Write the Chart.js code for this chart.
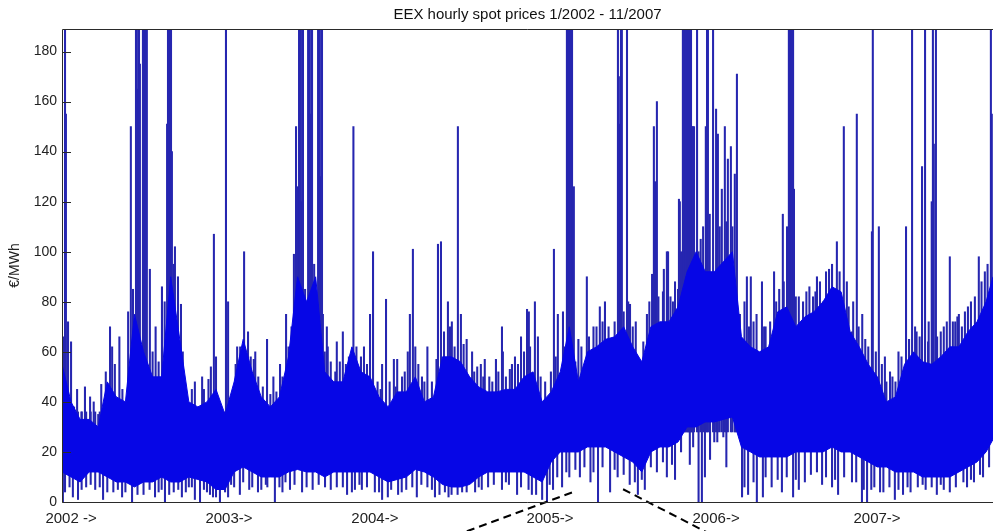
<!DOCTYPE html>
<html><head><meta charset="utf-8">
<script src="https://cdn.jsdelivr.net/npm/chart.js@4.4.1/dist/chart.umd.min.js"></script>
<style>html,body{margin:0;padding:0;background:#fff;overflow:hidden}canvas{display:block}</style>
</head><body>
<canvas id="c" width="995" height="531"></canvas>
<script>
// ---- data (x = weeks since 1 Jan 2002, y = EUR/MWh) ----
const chartTitle = 'EEX hourly spot prices 1/2002 - 11/2007';
const yAxisLabel = '€/MWh';
const yTickValues = [0, 20, 40, 60, 80, 100, 120, 140, 160, 180];
const tickWeeks = [3.0, 55.3, 103.6, 161.6, 216.6, 269.9];
const tickLabels = ['2002 ->', '2003->', '2004->', '2005->', '2006->', '2007->'];

// dense band of hourly prices, sampled every 3 weeks
const bodyWeeks = [0,3,6,9,12,15,18,21,24,27,30,33,36,39,42,45,48,51,54,57,60,63,66,69,72,75,78,81,84,87,90,93,96,99,102,105,108,111,114,117,120,123,126,129,132,135,138,141,144,147,150,153,156,159,162,165,168,171,174,177,180,183,186,189,192,195,198,201,204,207,210,213,216,219,222,225,228,231,234,237,240,243,246,249,252,255,258,261,264,267,270,273,276,279,282,285,288,291,294,297,300,303,306,308.3];
const bodyHigh = [55,40,33,33,30,48,42,40,75,60,50,50,90,65,40,38,40,45,35,48,65,52,42,38,42,58,90,80,90,52,48,48,62,52,50,42,38,44,44,50,40,42,58,58,56,50,46,44,44,45,45,50,52,40,44,52,70,48,60,62,65,66,70,62,56,70,72,72,78,92,100,92,92,96,100,66,62,60,62,76,78,70,74,76,80,86,84,68,62,55,50,40,42,55,60,56,55,58,62,62,68,72,80,90];
const bodyLow = [12,10,8,12,12,10,8,8,6,8,8,10,8,8,10,9,8,5,5,12,14,12,10,10,10,12,13,12,12,10,12,12,12,12,12,10,8,9,10,13,12,10,7,6,6,7,10,12,12,12,12,12,10,8,16,20,20,20,22,22,22,20,18,16,12,20,22,22,24,30,30,32,32,33,34,22,20,18,18,18,18,20,20,20,20,22,20,20,18,16,14,14,12,12,12,10,10,10,10,12,14,16,20,25];

// isolated hourly peaks [week, price]
const spikes = [[1.0,189],[1.3,155],[2.0,72],[3.0,64],[5,45],[7.6,46],[9.3,42],[13,47],[15.9,70],[16.6,62],[19,66],[21.9,76],[22.8,150],[24.5,189],[24.8,189],[25.2,165],[25.5,189],[25.8,175],[26.8,189],[27.2,189],[27.5,189],[27.8,189],[28.1,189],[29.1,93],[31,70],[33.1,86],[34.8,151],[35.1,189],[35.4,189],[35.8,189],[36.1,189],[36.4,140],[37.4,102],[38.4,90],[39.4,79],[41,44],[44,48],[46.4,50],[49.3,54],[50.3,107],[54.3,189],[55.0,80],[58,62],[60.3,100],[61.6,68],[64,60],[67.9,65],[70,50],[72.2,55],[74.2,75],[76.8,99],[77.5,150],[78.1,126],[78.5,189],[78.8,189],[79.1,120],[79.5,189],[79.8,189],[80.5,85],[81.5,189],[81.8,189],[82.1,155],[82.5,189],[82.8,189],[84.8,189],[85.1,189],[85.4,189],[85.8,130],[86.1,189],[86.4,75],[87.7,70],[88,62],[91,64],[93.0,68],[96.5,150],[100,62],[102.0,75],[103.0,100],[106,55],[107.3,81],[109.9,57],[111,57],[112.6,50],[115.2,75],[116.2,101],[118,55],[119.2,50],[121,62],[122.5,48],[124.5,103],[125.5,104],[127.8,80],[129.1,72],[131.1,150],[132.1,75],[134,65],[135.8,60],[138.7,55],[140,57],[143.7,57],[145.7,70],[146,60],[148.3,53],[150,58],[152.0,66],[154.0,77],[154.6,76],[156.6,80],[157.6,66],[161.9,52],[162.9,101],[164.2,75],[165.9,76],[167.2,189],[167.5,189],[167.9,189],[168.2,189],[168.5,189],[168.9,189],[169.5,126],[171,65],[173.8,90],[175.8,61],[177,70],[178.1,78],[179.8,80],[182.5,65],[184.1,189],[184.4,170],[184.8,151],[185.1,189],[185.4,189],[187.1,189],[188.1,79],[190,72],[191.4,54],[193.7,75],[195.4,91],[196.0,150],[196.4,128],[197.0,160],[198.0,70],[199.3,93],[200.3,100],[200.7,100],[202.3,80],[204.0,85],[204.3,121],[204.6,120],[205.6,189],[206.0,189],[206.3,189],[206.6,189],[207.0,189],[207.3,189],[207.6,189],[207.9,189],[208.3,189],[208.6,150],[208.9,150],[209.3,150],[210.3,189],[213.2,150],[213.6,189],[213.9,189],[215.6,189],[216.6,157],[217.2,147],[218.5,125],[219.5,150],[220.5,137],[221.5,142],[222.8,131],[223.5,171],[226,80],[226.8,90],[228.1,90],[230,75],[231.8,88],[233,70],[235.8,92],[238.7,115],[240.1,110],[240.7,189],[241.1,189],[241.4,189],[241.7,189],[242.1,189],[242.4,125],[244,82],[245.4,80],[248.7,82],[250,90],[252.0,80],[254.0,93],[256.6,104],[258.9,150],[259.9,88],[261.6,68],[262,80],[263.2,155],[265,75],[268.2,108],[268.5,189],[270.5,110],[272.5,58],[274.2,52],[277,60],[279.5,110],[281.5,189],[283,68],[284.8,134],[285.8,189],[287,72],[288.0,120],[288.4,189],[288.7,143],[289.4,189],[292,70],[294.0,98],[295.0,72],[297,75],[298.0,70],[300.0,78],[302.3,82],[303.6,98],[305.6,92],[307.6,189],[307.9,155],
  [0.5,66],[4,38],[6.5,36],[10.5,40],[12,35],[14.5,52],[17.5,55],[20,45],[23.5,85],[30,60],[32,56],[34,80],[37,95],[40,60],[43,45],[47,45],[48.5,49],[51,58],
  [53,30],[56,42],[57.5,55],[59,62],[62.5,58],[63.5,57],[65,50],[66.5,46],[69,43],[71,44],[73,50],[75,62],[76,70],[83.5,95],[87,60],[89,56],[90.5,52],[92,56],[94,55],[95,58],[97.5,62],[99,58],[101,55],
  [104.5,48],[105.5,45],[108.5,48],[110.5,46],[113.5,52],[114.5,60],[117,62],[120,48],[124,57],[126.5,68],[128.5,70],[130,62],[133,63],[136.5,52],[137.5,54],[139.5,50],[141.5,50],[142.5,48],[144.5,52],[147,50],[149,55],[151,55],[153,60],[155,62],
  [158.5,50],[160,48],[163.5,58],[166.5,62],[170,56],[172,62],[174.5,66],[176,70],[179,72],[181,70],[183,72],[186,76],[187.5,80],[189,70],[192.5,64],[194.5,80],[197.5,82],[199,84],[201.5,82],[203,88],[205,100],
  [210.8,100],[211.5,105],[212.3,110],[214.5,115],[217.8,110],[220,112],[222,110],[224.5,75],[227.5,70],[229,72],[232.5,70],[234.5,72],[236.5,80],[237.5,85],[239,88],[243,82],[246.5,84],[247.5,86],[249.5,84],[251,88],[253,92],[255,95],[257.5,92],[260.5,78],[263.8,70],
  [266,65],[267,62],[269.5,60],[271.5,55],[273,48],[275,50],[276,48],[278,58],[280.5,65],[282.5,70],[284,66],[286.8,64],[289.8,66],[291,68],[293,72],[295.8,72],[296.5,74],[299,76],[301,80],[304.5,88],[306.5,95]];

// isolated hourly lows [week, price]
const dips = [[0.3,0],[1.0,4],[3.6,2],[5.3,1],[8,6],[11,5],[13.6,1],[17,4],[19.9,2],[23.2,0],[27,3],[30.8,2],[33,5],[34.1,0],[37,4],[39.7,2],[42,6],[44.0,1],[45.7,0],[48,4],[50.0,2],[52.3,0],[55.0,2],[57,6],[58.9,3],[62,5],[64.9,4],[68,6],[70.5,0],[73,4],[75.5,5],[79.5,4],[83,5],[87.1,6],[91,6],[94.4,3],[97,5],[99.3,5],[103.6,4],[106.0,1],[107.9,2],[111.3,3],[114,5],[117.5,2],[121,6],[123.5,2],[126.8,4],[129,3],[132.5,4],[136.8,4],[139,5],[141.1,6],[145.7,5],[148,7],[150.7,3],[155.6,3],[159.0,1],[160.6,0],[162.6,5],[165.6,6],[168,10],[171.5,10],[175,8],[177.5,0],[181.5,4],[184,10],[189.7,8],[190.7,3],[193.0,5],[197,12],[200.3,10],[203.0,9],[207.9,15],[210.8,0],[211.9,0],[212.9,10],[214.6,17],[217,24],[220,14],[225.2,2],[227.2,3],[230.1,0],[232.1,2],[235,6],[238.4,4],[242.1,2],[244,5],[246.0,8],[251.7,7],[255,6],[257.0,3],[261.6,8],[264.9,0],[266.6,0],[268,5],[270.9,4],[275.8,1],[278.5,3],[281,4],[283.4,6],[286,5],[289.7,3],[292,5],[294.0,4],[299.7,6],[302,8],[305.0,10],
  [2.5,6],[6.5,5],[9.5,7],[12.5,6],[15,4],[18.5,5],[21,4],[25,3],[29,5],[32,4],[35.5,3],[38.5,5],[41,4],[43,6],[47,5],[49,3],[51,2],
  [54,4],[56,7],[60,8],[63,6],[66,5],[67.5,7],[72,6],[74,8],[77,7],[81,6],[85,7],[89,5],[93,6],[96,4],[98.5,7],[101,6],
  [105,4],[109,5],[112.5,4],[116,6],[119,7],[122.5,5],[125,3],[128,2],[131,3],[134,4],[138,6],[143,7],[147,8],[152,6],[154.5,5],[157,3],
  [161.5,7],[164,10],[167,12],[170,13],[173,14],[176,12],[179,14],[183,13],[186,11],[188,7],[192,9],[195,14],[199,16],[202,15],[205,20],[209,22],
  [216,24],[219,26],[223,28],[226,6],[229,8],[233,10],[237,9],[240,10],[243,9],[248,11],[250,12],[253,10],[256,9],[259,10],[263,8],
  [265.5,5],[269,6],[272,4],[274,6],[277,5],[280,6],[285,7],[288,6],[291,7],[296,6],[298.5,8],[301,9],[304,11],[307,14]];
const spikeBase = 28;   // spikes rise from inside the band
const dipBase = 36;     // dips fall from inside the band

// dashed guide lines (annotation), in data units
const guideAWeeks = [126.0, 169.5], guideAValues = [-15.3, 4.1];
const guideBWeeks = [185.8, 218.7], guideBValues = [5.1, -15.3];

// ---- chart ----
const BLUE = '#0606e6';
const NAVY = '#2626b0';
const FONT = "'Liberation Sans', Arial, Helvetica, sans-serif";

const pts = (xs, ys) => xs.map((x, i) => ({x: x, y: ys[i]}));

const axesPlugin = {
  id: 'axesBox',
  afterDatasetsDraw(chart) {
    const {ctx, chartArea: {left, right, top, bottom}, scales: {y}} = chart;
    ctx.save();
    ctx.strokeStyle = '#2a2a2a';
    ctx.lineWidth = 1;
    ctx.beginPath();
    ctx.moveTo(right, top + 0.5); ctx.lineTo(left + 0.5, top + 0.5);
    ctx.lineTo(left + 0.5, bottom + 0.5); ctx.lineTo(right, bottom + 0.5);
    yTickValues.forEach(v => {
      const py = Math.round(y.getPixelForValue(v)) + 0.5;
      ctx.moveTo(left + 0.5, py); ctx.lineTo(left + 9, py);
    });
    ctx.stroke();
    ctx.restore();
  }
};

new Chart(document.getElementById('c'), {
  type: 'line',
  data: {
    datasets: [
      {type: 'line', data: pts(guideAWeeks, guideAValues), borderColor: '#000', borderWidth: 2,
       borderDash: [8, 5], pointRadius: 0, fill: false, clip: false, order: 0},
      {type: 'line', data: pts(guideBWeeks, guideBValues), borderColor: '#000', borderWidth: 2,
       borderDash: [8, 5], pointRadius: 0, fill: false, clip: false, order: 0},
      {type: 'line', data: pts(bodyWeeks, bodyHigh), borderColor: BLUE, backgroundColor: BLUE,
       borderWidth: 1, pointRadius: 0, fill: '+1', tension: 0, order: 1},
      {type: 'line', data: pts(bodyWeeks, bodyLow), borderColor: BLUE, borderWidth: 1,
       pointRadius: 0, fill: false, tension: 0, order: 1},
      {type: 'bar', data: spikes.map(s => ({x: s[0], y: [spikeBase, s[1]]})), backgroundColor: NAVY,
       barThickness: 1.4, grouped: false, order: 2},
      {type: 'bar', data: dips.map(d => ({x: d[0], y: [d[1], dipBase]})), backgroundColor: NAVY,
       barThickness: 1.4, grouped: false, order: 2}
    ]
  },
  options: {
    responsive: false, animation: false, devicePixelRatio: 1,
    layout: {padding: {left: 0, right: 2, top: 0, bottom: 0}},
    plugins: {
      legend: {display: false}, tooltip: {enabled: false},
      title: {display: true, text: chartTitle, fullSize: false, color: '#111',
        font: {family: FONT, size: 15, weight: 'normal'}, padding: {top: 6, bottom: 5}}
    },
    scales: {
      x: {
        type: 'linear', min: 0, max: 308.3, offset: false,
        grid: {display: false, drawTicks: false, offset: false}, border: {display: false},
        afterBuildTicks: s => { s.ticks = tickWeeks.map(v => ({value: v})); },
        afterFit: s => { s.height = 29; },
        ticks: {autoSkip: false, maxRotation: 0, minRotation: 0, padding: 8, color: '#222',
          font: {family: FONT, size: 15}, callback: (v, i) => tickLabels[i]}
      },
      y: {
        min: 0, max: 189,
        grid: {display: false, drawTicks: false}, border: {display: false},
        afterBuildTicks: s => { s.ticks = yTickValues.map(v => ({value: v})); },
        afterFit: s => { s.width = 62; },
        ticks: {padding: 5, color: '#222', font: {family: FONT, size: 14}},
        title: {display: true, text: yAxisLabel, color: '#222', font: {family: FONT, size: 14},
          padding: {top: 7, bottom: 0}}
      }
    }
  },
  plugins: [axesPlugin]
});
</script>
</body></html>
